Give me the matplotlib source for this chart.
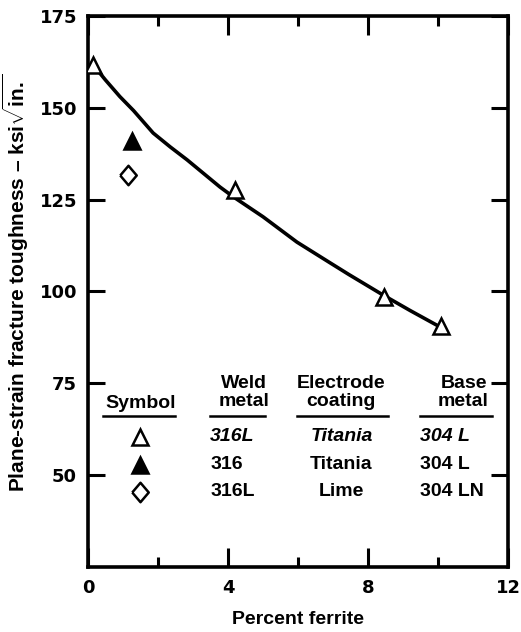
import matplotlib.pyplot as plt
import numpy as np

plt.rcParams['font.family'] = ['Liberation Sans', 'DejaVu Sans']
plt.rcParams['font.weight'] = 'bold'
plt.rcParams['axes.labelweight'] = 'bold'
plt.rcParams['mathtext.fontset'] = 'custom'
plt.rcParams['mathtext.rm'] = 'Liberation Sans:bold'
plt.rcParams['mathtext.it'] = 'Liberation Sans:bold:italic'

# Datos
ferrita_316L_ti = [0.14, 4.2, 8.45, 10.1]
tenacidad_316L_ti = [161.7, 127.5, 98.5, 90.5]
ferrita_316_ti = [1.25]
tenacidad_316_ti = [140.8]
ferrita_316L_lime = [1.15]
tenacidad_316L_lime = [131.7]

# Curva de ajuste
curva_x = [0.14, 0.5, 0.91, 1.3, 1.86, 2.35, 2.83, 3.3, 3.77, 4.14, 5.0,
           5.97, 6.91, 7.45, 8.43, 9.2, 10.06]
curva_y = [161.7, 157.5, 153.0, 149.2, 143.1, 139.3, 135.8, 132.1, 128.4,
           125.8, 120.3, 113.4, 107.8, 104.6, 99.0, 94.8, 90.3]

# Tabla de simbolos
columnas = ["Weld\nmetal", "Electrode\ncoating", "Base\nmetal"]
filas = [["316L", "Titania", "304 L"],
         ["316", "Titania", "304 L"],
         ["316L", "Lime", "304 LN"]]

diamante = [(-0.85, 0), (0, 1), (0.85, 0), (0, -1), (-0.85, 0)]

fig = plt.figure(figsize=(5.21, 6.32), dpi=100)
ax = fig.add_axes([0.169, 0.103, 0.806, 0.872])

ax.plot(curva_x, curva_y, color="black", linewidth=2.6, zorder=2,
        solid_joinstyle="round")
ax.plot(ferrita_316L_ti, tenacidad_316L_ti, linestyle="none", marker="^",
        markersize=12, mfc="white", mec="black", mew=1.8, zorder=3)
ax.plot(ferrita_316_ti, tenacidad_316_ti, linestyle="none", marker="^",
        markersize=12, mfc="black", mec="black", mew=1.8, zorder=3)
ax.plot(ferrita_316L_lime, tenacidad_316L_lime, linestyle="none",
        marker=diamante, markersize=14, mfc="white", mec="black", mew=1.8,
        zorder=3)

# Tabla dentro del grafico
fs = 14
ax.text(1.49, 69.4, "Symbol", ha="center", va="center", fontsize=fs)
ax.plot([0.43, 2.49], [66.0, 66.0], color="black", linewidth=1.8)
cols_x = [4.45, 7.24, 10.73]
underlines = [(3.49, 5.06), (5.97, 8.57), (9.49, 11.54)]
for cx, (u0, u1), titulo in zip(cols_x, underlines, columnas):
    ax.text(cx, 72.5, titulo, ha="center", va="center", fontsize=fs,
            linespacing=1.1)
    ax.plot([u0, u1], [66.0, 66.0], color="black", linewidth=1.8)

filas_y = [60.4, 52.8, 45.4]
estilos = [("^", "white", 12), ("^", "black", 12), (diamante, "white", 14)]
for fy, fila, (mk, fc, ms), k in zip(filas_y, filas, estilos, range(3)):
    ax.plot([1.49], [fy], linestyle="none", marker=mk, markersize=ms,
            mfc=fc, mec="black", mew=1.8)
    estilo = "italic" if k == 0 else "normal"
    ax.text(3.49, fy, fila[0], ha="left", va="center", fontsize=fs,
            style=estilo)
    ax.text(7.24, fy, fila[1], ha="center", va="center", fontsize=fs,
            style=estilo)
    ax.text(9.49, fy, fila[2], ha="left", va="center", fontsize=fs,
            style=estilo)

ax.set_xlim(0, 12)
ax.set_ylim(25, 175)
ax.set_xticks([0, 4, 8, 12])
ax.set_xticks([2, 6, 10], minor=True)
ax.set_yticks([50, 75, 100, 125, 150, 175])
ax.tick_params(axis="y", which="major", direction="in", length=12,
               width=2.2, labelsize=13, right=True, pad=8)
ax.tick_params(axis="x", which="major", direction="in", length=14,
               width=2.2, labelsize=13, top=True, pad=9)
ax.tick_params(axis="x", which="minor", direction="in", length=7,
               width=2.2, top=True)
for lbl in ax.get_xticklabels() + ax.get_yticklabels():
    lbl.set_family("DejaVu Sans")
    lbl.set_fontweight("bold")
for s in ax.spines.values():
    s.set_linewidth(2.6)

ax.set_xlabel("Percent ferrite", fontsize=14, labelpad=10)
ax.set_ylabel(r"Plane-strain fracture toughness – ksi$\sqrt{\mathrm{in.}}$",
              fontsize=15)
ax.yaxis.set_label_coords(-0.135, 0.515)

plt.savefig("out.png", dpi=100)
